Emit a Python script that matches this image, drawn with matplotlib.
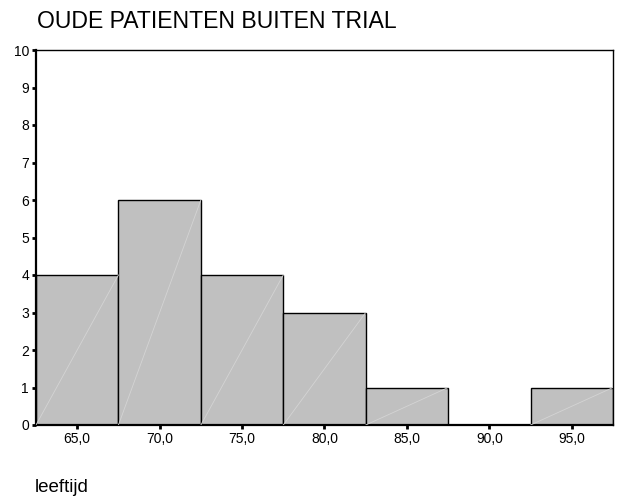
import numpy as np
import matplotlib
matplotlib.use("Agg")
import matplotlib.pyplot as plt

plt.rcParams['font.family'] = ['Liberation Sans', 'DejaVu Sans']

# histogram data
bin_centers = [65.0, 70.0, 75.0, 80.0, 85.0, 90.0, 95.0]
counts = [4, 6, 4, 3, 1, 0, 1]
tick_labels = ["65,0", "70,0", "75,0", "80,0", "85,0", "90,0", "95,0"]
y_ticks = list(range(0, 11))
bin_width = 5.0

fig = plt.figure(figsize=(6.18, 5.0), dpi=100)
ax = fig.add_axes([36 / 618, 75 / 500, 577 / 618, 375 / 500])

ax.bar(bin_centers, counts, width=bin_width, color="#c0c0c0",
       edgecolor="black", linewidth=1.0, zorder=2)

# faint diagonal inside each bar
for c, h in zip(bin_centers, counts):
    if h > 0:
        ax.plot([c - bin_width / 2, c + bin_width / 2], [0, h],
                color="#d4d4d4", linewidth=0.6, zorder=3)

ax.set_xlim(bin_centers[0] - bin_width / 2, bin_centers[-1] + bin_width / 2)
ax.set_ylim(0, 10)
ax.set_xticks(bin_centers)
ax.set_xticklabels(tick_labels, fontsize=10)
ax.set_yticks(y_ticks)
ax.set_yticklabels([str(v) for v in y_ticks], fontsize=10)
ax.tick_params(axis='both', direction='out', length=3, width=2, pad=2)

for s in ax.spines.values():
    s.set_linewidth(1.0)
ax.spines['left'].set_linewidth(1.6)
ax.spines['bottom'].set_linewidth(1.6)

fig.text(37 / 618, 1 - 22 / 500, "OUDE PATIENTEN BUITEN TRIAL",
         fontsize=16.6, va='center', ha='left')
fig.text(35 / 618, 1 - 487 / 500, "leeftijd",
         fontsize=13.5, va='center', ha='left')

fig.savefig("out.png", dpi=100)
